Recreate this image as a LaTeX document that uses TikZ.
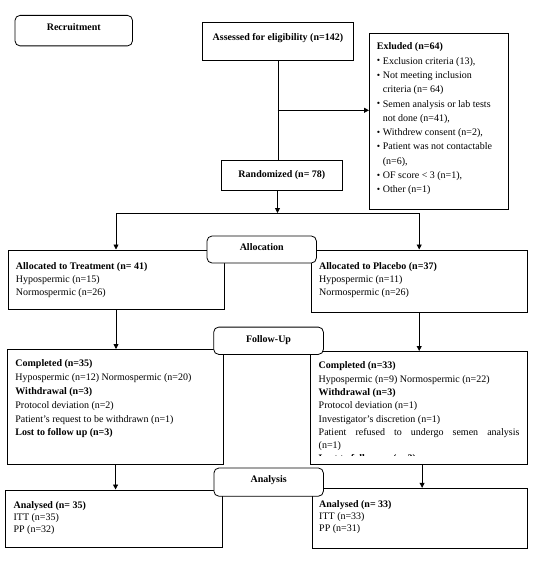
\documentclass[tikz,border=0pt]{standalone}
\usepackage{fontspec}
\setmainfont{Liberation Serif}
\usepackage{tikz}
\usetikzlibrary{arrows.meta,positioning}

% text block inside a box: width, height, gap above first line, content
\newcommand{\inbox}[4]{\parbox[c][#2][t]{#1}{\vspace*{#3}#4}}
% bullet line with hanging indent
\newcommand{\exitem}[1]{\par\hangindent=6pt\hangafter=1\noindent
  \makebox[6pt][l]{\raisebox{0.2pt}{\fontsize{9.5}{9.5}\selectfont\textbullet}}#1}

\begin{document}
\begin{tikzpicture}[x=1pt,y=-1pt,
        box/.style={draw,line width=0.8pt,anchor=north west,inner ysep=0pt,inner xsep=#1,
                    font=\fontsize{10}{13}\selectfont},
        box/.default=0pt,
        stage/.style={box,rounded corners=5pt,fill=white},
        link/.style={line width=0.8pt},
        arrow/.style={link,-{Triangle[length=5pt,width=5pt]}}]
      \useasboundingbox (0,0) rectangle (544,561);
      % recruitment
      \node[box] (assess) at (202,22) {\inbox{151pt}{38pt}{11.5pt}{\centering\textbf{Assessed for eligibility (n=142)}}};
      \node[box=7.5pt,font=\fontsize{10}{14.3}\selectfont] (excl) at (369,33) {\inbox{124pt}{175.5pt}{9.5pt}{%
        \textbf{Exluded (n=64)}
        \exitem{Exclusion criteria (13),}
        \exitem{Not meeting inclusion\\criteria (n= 64)}
        \exitem{Semen analysis or lab tests\\not done (n=41),}
        \exitem{Withdrew consent (n=2),}
        \exitem{Patient was not contactable\\(n=6),}
        \exitem{OF score < 3 (n=1),}
        \exitem{Other (n=1)}}};
      \node[box] (rand) at (220.7,160.3) {\inbox{121.6pt}{30pt}{9.9pt}{\centering\textbf{Randomized (n= 78)}}};
      % allocation
      \node[box=8pt,font=\fontsize{10}{12.9}\selectfont] (lalloc) at (7.6,249.5) {\inbox{200pt}{59.5pt}{12.8pt}{%
        \textbf{Allocated to Treatment (n= 41)}\\Hypospermic (n=15)\\Normospermic (n=26)}};
      \node[box=8pt,font=\fontsize{10}{12.9}\selectfont] (ralloc) at (310.8,249.5) {\inbox{200pt}{62.5pt}{12.8pt}{%
        \textbf{Allocated to Placebo (n=37)}\\Hypospermic (n=11)\\Normospermic (n=26)}};
      % follow-up
      \node[box=7.7pt,font=\fontsize{10}{13.8}\selectfont] (lfol) at (7.3,349) {\inbox{200.3pt}{115pt}{10.5pt}{%
        \textbf{Completed (n=35)}\\Hypospermic (n=12) Normospermic (n=20)\\\textbf{Withdrawal (n=3)}\\
        Protocol deviation (n=2)\\Patient’s request to be withdrawn (n=1)\\\textbf{Lost to follow up (n=3)}}};
      \begin{scope}
        \clip (300,340) rectangle (540,455.8);
        \node[box=7.6pt,draw=none,font=\fontsize{10}{13.3}\selectfont] (rfol) at (310.7,351) {\inbox{200.8pt}{113pt}{10.5pt}{%
          \textbf{Completed (n=33)}\\Hypospermic (n=9) Normospermic (n=22)\\\textbf{Withdrawal (n=3)}\\
          Protocol deviation (n=1)\\Investigator’s discretion (n=1)\\
          \makebox[\linewidth][s]{Patient refused to undergo semen analysis}\\(n=1)\\\textbf{Lost to follow up (n=3)}}};
      \end{scope}
      \draw[link] (rfol.north west) rectangle (rfol.south east);
      % analysis
      \node[box=8.2pt,font=\fontsize{10}{12.3}\selectfont] (lana) at (5,489.5) {\inbox{200.1pt}{57.3pt}{11.4pt}{%
        \textbf{Analysed (n= 35)}\\ITT (n=35)\\PP (n=32)}};
      \node[box=7.3pt,font=\fontsize{10}{12.2}\selectfont] (rana) at (311.5,487.8) {\inbox{200.6pt}{59.7pt}{12.1pt}{%
        \textbf{Analysed (n= 33)}\\ITT (n=33)\\PP (n=31)}};
      % stage labels
      \node[stage] (recruit) at (14.6,15) {\inbox{117.5pt}{30.5pt}{7.7pt}{\centering\textbf{Recruitment}}};
      \node[stage] (allocation) at (206.6,235.6) {\inbox{109.4pt}{27pt}{8pt}{\centering\textbf{Allocation}}};
      \node[stage] (follow) at (213.3,326.7) {\inbox{109.7pt}{27.3pt}{8.3pt}{\centering\textbf{Follow-Up}}};
      \node[stage] (analysis) at (213.5,467.6) {\inbox{109.5pt}{28.2pt}{8pt}{\centering\textbf{Analysis}}};
      % connectors
      \coordinate (split) at (277.5,110.3);
      \coordinate (fork) at (277.5,213);
      \draw[link] (assess.south) -- (assess.south |- rand.north);
      \draw[arrow] (split) -- (split -| excl.west);
      \draw[arrow] (fork |- rand.south) -- (fork);
      \draw[arrow] (fork) -| (lalloc.north);
      \draw[arrow] (fork) -| (ralloc.north);
      \draw[arrow] (lalloc.south) -- (lalloc.south |- lfol.north);
      \draw[arrow] (ralloc.south) -- (ralloc.south |- rfol.north);
      \draw[arrow] (lfol.south) -- (lfol.south |- lana.north);
      \draw[arrow] ([xshift=3pt]rfol.south) -- ([xshift=3pt]rfol.south |- rana.north);
    \end{tikzpicture}
\end{document}
